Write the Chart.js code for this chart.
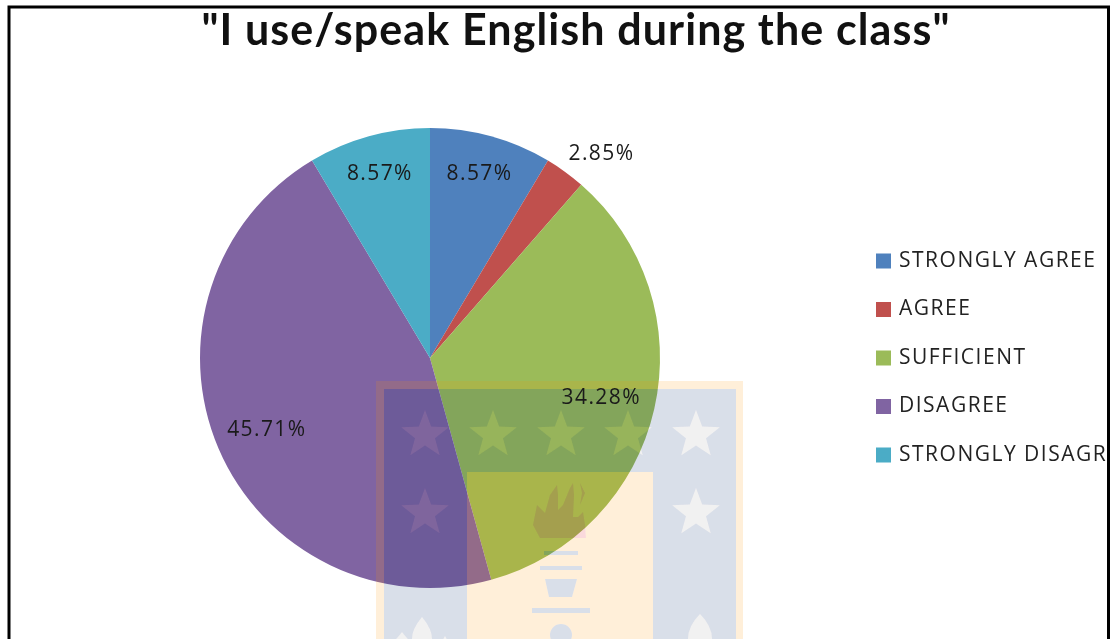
<!DOCTYPE html>
<html>
<head>
<meta charset="utf-8">
<style>html,body{margin:0;padding:0;background:#fff;overflow:hidden}canvas{display:block}</style>
<script src="https://cdn.jsdelivr.net/npm/chart.js@4"></script>
</head>
<body>
<canvas id="c" width="1110" height="639"></canvas>
<script>
const titleText = '"I use/speak English during the class"';
const categories = ['STRONGLY AGREE', 'AGREE', 'SUFFICIENT', 'DISAGREE', 'STRONGLY DISAGREE'];
const shares = [8.57, 2.85, 34.28, 45.71, 8.57];
const sliceColors = ['#4F81BD', '#C0504D', '#9BBB59', '#8064A2', '#4BACC6'];
// Percentage label placement: distance from the pie centre as a fraction of the
// radius, and a turn in degrees away from the slice's middle angle.
const labelRadii = [0.83, 1.16, 0.765, 0.775, 0.83];
const labelTurns = [-0.4, 4, 0.4, -0.6, 0.2];

const labelFont = '21px "Open Sans"';

function starPath(ctx, cx, cy, r) {
  for (let i = 0; i < 10; i++) {
    const a = -Math.PI / 2 + i * Math.PI / 5;
    const d = i % 2 ? r * 0.42 : r;
    const x = cx + d * Math.cos(a), y = cy + d * Math.sin(a);
    i ? ctx.lineTo(x, y) : ctx.moveTo(x, y);
  }
  ctx.closePath();
}

function addPoly(path, pts) {
  pts.forEach((p, i) => i ? path.lineTo(p[0], p[1]) : path.moveTo(p[0], p[1]));
  path.closePath();
}

// University crest laid translucently over the pie.
const crest = {
  id: 'crest',
  afterDatasetsDraw(chart) {
    const ctx = chart.ctx;
    const orange = 'rgba(255,147,0,0.15)';
    const blue = 'rgba(0,40,110,0.15)';
    const grey = 'rgba(120,120,120,0.1)';
    const stars = [[425, 435], [493, 435], [561, 435], [628, 435], [696, 435], [425, 513], [696, 513]];
    ctx.save();
    // outer frame
    ctx.fillStyle = orange;
    ctx.beginPath();
    ctx.rect(376, 381, 367, 258);
    ctx.rect(384, 389, 352, 250);
    ctx.fill('evenodd');
    // stars and laurel leaves are left out of the blue panel
    const starField = new Path2D();
    stars.forEach(s => starPath(starField, s[0], s[1], 25));
    const leaves = new Path2D();
    [[402, 632, 9], [422, 617, 10], [445, 636, 6], [700, 614, 12]].forEach(l => {
      const [x, y, w] = l;
      leaves.moveTo(x, y);
      leaves.quadraticCurveTo(x + w, y + 12, x + w, 639);
      leaves.lineTo(x - w, 639);
      leaves.quadraticCurveTo(x - w, y + 12, x, y);
      leaves.closePath();
    });
    const panel = new Path2D();
    addPoly(panel, [[384, 389], [736, 389], [736, 639], [653, 639], [653, 472], [467, 472], [467, 639], [384, 639]]);
    panel.addPath(starField);
    panel.addPath(leaves);
    ctx.fillStyle = blue;
    ctx.fill(panel, 'evenodd');
    ctx.fillStyle = grey;
    ctx.fill(starField);
    ctx.fill(leaves, 'nonzero');
    // torch and flame shapes, cut out of the central field
    const torch = new Path2D();
    torch.rect(544, 551, 34, 4);
    torch.rect(540, 566, 42, 4);
    addPoly(torch, [[545, 579], [577, 579], [572, 597], [549, 597]]);
    torch.rect(532, 608, 58, 5);
    torch.moveTo(572, 635);
    torch.arc(561, 635, 11, 0, Math.PI * 2);
    const flame = new Path2D();
    addPoly(flame, [[540, 538], [533, 525], [537, 505], [545, 513], [550, 495], [557, 485], [558, 495], [558, 510],
      [563, 505], [570, 488], [573, 483], [574, 495], [573, 517], [578, 517], [583, 512], [585, 525], [586, 538]]);
    addPoly(flame, [[580, 483], [585, 493], [580, 505], [582, 493]]);
    const field = new Path2D();
    field.rect(467, 472, 186, 167);
    field.addPath(torch);
    field.addPath(flame);
    ctx.fillStyle = orange;
    ctx.fill(field, 'evenodd');
    ctx.fillStyle = blue;
    ctx.fill(torch);
    ctx.fillStyle = 'rgba(220,0,20,0.15)';
    ctx.fill(flame);
    ctx.restore();
  }
};

// Percentage labels, placed relative to each slice's middle angle.
const sliceLabels = {
  id: 'sliceLabels',
  afterDatasetsDraw(chart) {
    const ctx = chart.ctx;
    ctx.save();
    ctx.font = labelFont;
    ctx.letterSpacing = '1.4px';
    ctx.fillStyle = '#1a1a1a';
    ctx.textAlign = 'center';
    ctx.textBaseline = 'middle';
    chart.getDatasetMeta(0).data.forEach((arc, i) => {
      const p = arc.getProps(['x', 'y', 'startAngle', 'endAngle', 'outerRadius'], true);
      const mid = (p.startAngle + p.endAngle) / 2 + labelTurns[i] * Math.PI / 180;
      const d = p.outerRadius * labelRadii[i];
      ctx.fillText(shares[i].toFixed(2) + '%', p.x + d * Math.cos(mid), p.y + d * Math.sin(mid));
    });
    ctx.restore();
  }
};

// Wraps a box's measuring and drawing so its text is set with extra tracking.
function track(box, spacing) {
  ['fit', 'draw'].forEach(method => {
    const original = box[method];
    box[method] = function () {
      const previous = this.ctx.letterSpacing;
      this.ctx.letterSpacing = spacing;
      original.apply(this, arguments);
      this.ctx.letterSpacing = previous;
    };
  });
}

const tracking = {
  id: 'tracking',
  beforeLayout(chart) {
    if (chart.$tracked) return;
    chart.$tracked = true;
    track(chart.legend, '1.5px');
    track(chart.titleBlock, '1.1px');
  }
};

// Black outline of the figure: top, left and right edges only.
const frame = {
  id: 'frame',
  afterDraw(chart) {
    const ctx = chart.ctx;
    ctx.save();
    ctx.strokeStyle = '#000';
    ctx.lineWidth = 3;
    ctx.beginPath();
    ctx.moveTo(9, 639); ctx.lineTo(9, 7); ctx.lineTo(1108.5, 7); ctx.lineTo(1108.5, 639);
    ctx.stroke();
    ctx.restore();
  }
};

new Chart(document.getElementById('c'), {
  type: 'pie',
  data: {
    labels: categories,
    datasets: [{ data: shares, backgroundColor: sliceColors, borderWidth: 0, radius: 230 }]
  },
  plugins: [tracking, crest, sliceLabels, frame],
  options: {
    responsive: false,
    animation: false,
    layout: { padding: { left: 9, right: -33 } },
    plugins: {
      tooltip: { enabled: false },
      title: {
        display: true,
        text: titleText,
        color: '#111',
        font: { family: 'Lato', size: 43, weight: 'bold', lineHeight: 1.2 },
        padding: { top: 5, bottom: 20.4 }
      },
      legend: {
        position: 'right',
        fullSize: false,
        maxWidth: 292,
        labels: {
          color: '#222',
          font: { family: 'Open Sans', size: 21 },
          boxWidth: 10,
          boxHeight: 10,
          padding: 27.5,
          generateLabels(chart) {
            return Chart.overrides.pie.plugins.legend.labels.generateLabels(chart)
              .map(item => Object.assign(item, { strokeStyle: item.fillStyle, lineWidth: 5 }));
          }
        }
      }
    }
  }
});
</script>
</body>
</html>
